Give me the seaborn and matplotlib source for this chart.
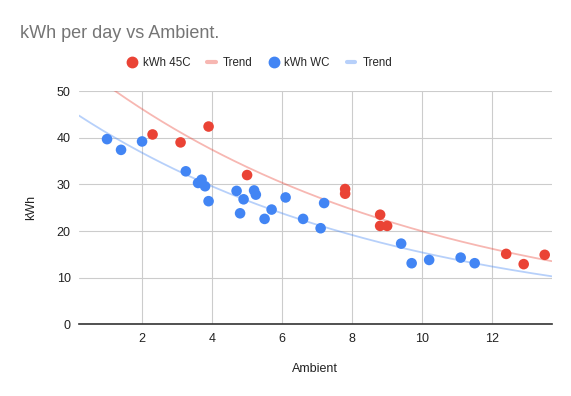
import numpy as np
import pandas as pd
import seaborn as sns
import matplotlib.pyplot as plt
from matplotlib.lines import Line2D

# data
ambient_45c = [2.3, 3.1, 3.9, 5.0, 7.8, 7.8, 8.8, 8.8, 9.0, 12.4, 12.9, 13.5]
kwh_45c = [40.7, 39.0, 42.4, 32.0, 29.0, 28.0, 23.5, 21.1, 21.1, 15.1, 12.9, 14.9]

ambient_wc = [1.0, 1.4, 2.0, 3.25, 3.6, 3.7, 3.8, 3.9, 4.7, 4.8, 4.9, 5.2, 5.25,
              5.5, 5.7, 6.1, 6.6, 7.1, 7.2, 9.4, 9.7, 10.2, 11.1, 11.5]
kwh_wc = [39.7, 37.4, 39.2, 32.8, 30.3, 31.0, 29.6, 26.4, 28.6, 23.8, 26.8, 28.7, 27.8,
          22.6, 24.6, 27.2, 22.6, 20.6, 26.0, 17.3, 13.1, 13.8, 14.3, 13.1]

red = "#ea4335"
blue = "#4285f4"

sns.set_theme(style="whitegrid")
plt.rcParams["font.family"] = ["Liberation Sans", "DejaVu Sans"]

df = pd.concat([
    pd.DataFrame({"Ambient": ambient_45c, "kWh": kwh_45c, "series": "kWh 45C"}),
    pd.DataFrame({"Ambient": ambient_wc, "kWh": kwh_wc, "series": "kWh WC"}),
])

# exponential trend lines (least squares on log y), over the visible x range
xmin, xmax = 0.2, 13.7
xs = np.linspace(xmin, xmax, 200)
trends = []
for name, xv, yv in [("kWh 45C", ambient_45c, kwh_45c), ("kWh WC", ambient_wc, kwh_wc)]:
    b, lna = np.polyfit(xv, np.log(yv), 1)
    trends.append(pd.DataFrame({"Ambient": xs, "kWh": np.exp(lna + b * xs), "series": name}))
trend_df = pd.concat(trends)

fig = plt.figure(figsize=(5.71, 3.96), dpi=100)
ax = fig.add_axes([0.1384, 0.181, 0.8278, 0.589])

sns.lineplot(data=trend_df, x="Ambient", y="kWh", hue="series",
             palette={"kWh 45C": red, "kWh WC": blue}, alpha=0.38, linewidth=1.3,
             legend=False, ax=ax, zorder=2)
sns.scatterplot(data=df, x="Ambient", y="kWh", hue="series",
                palette={"kWh 45C": red, "kWh WC": blue}, s=58, edgecolor="none",
                legend=False, ax=ax, zorder=3)

ax.set_xlim(xmin, xmax)
ax.set_ylim(0, 50)
ax.set_xticks([2, 4, 6, 8, 10, 12])
ax.set_yticks([0, 10, 20, 30, 40, 50])
ax.grid(True, color="#cccccc", linewidth=0.8)
for s in ["top", "right", "left"]:
    ax.spines[s].set_visible(False)
ax.spines["bottom"].set_color("#333333")
ax.spines["bottom"].set_linewidth(1.2)
ax.tick_params(axis="both", length=0, labelsize=9, colors="#222222", pad=6)
ax.set_xlabel("Ambient", fontsize=9, color="#222222", labelpad=13)
ax.set_ylabel("kWh", fontsize=9, color="#222222", labelpad=14)

fig.text(0.035, 0.915, "kWh per day vs Ambient.", fontsize=13, color="#757575",
         ha="left", va="center")

handles = [
    Line2D([], [], marker="o", linestyle="none", color=red, markersize=7.5),
    Line2D([], [], color=red, alpha=0.38, linewidth=3),
    Line2D([], [], marker="o", linestyle="none", color=blue, markersize=7.5),
    Line2D([], [], color=blue, alpha=0.38, linewidth=3),
]
fig.legend(handles, ["kWh 45C", "Trend", "kWh WC", "Trend"], loc="center",
           bbox_to_anchor=(0.455, 0.84), ncol=4, frameon=False, fontsize=8.3,
           handlelength=0.7, handletextpad=0.6, columnspacing=1.5)

fig.savefig("out.png", dpi=100)
